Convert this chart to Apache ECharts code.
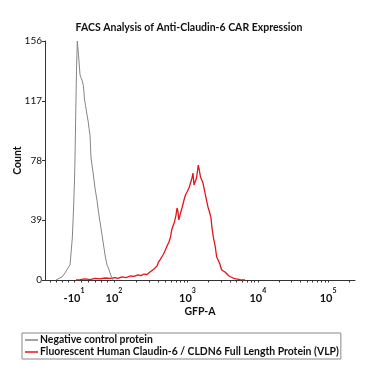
<!DOCTYPE html>
<html><head><meta charset="utf-8">
<script src="https://cdn.jsdelivr.net/npm/echarts@6/dist/echarts.min.js"></script>
<style>html,body{margin:0;padding:0;background:#fff}#c{width:378px;height:378px}</style>
</head><body><div id="c"></div>
<script>
// x values are display channels (logicle-scaled GFP-A axis), y values are counts
var negativeControl = [[11,0],[13,0.3],[17,2],[20,4.6],[23,7.8],[25,9.8],[26.3,19.6],[27.3,27.4],[28.5,45.7],[29.5,65.3],[30,79.6],[30.8,111],[31.5,137],[32.3,156],[33.5,147],[35,134],[36,132],[37,130.5],[38.3,127],[39,122.7],[39.3,118.8],[40.5,114],[41.5,109.7],[43.3,103],[44,99],[45,94.6],[46,79.6],[48,70.5],[50,60],[52,52],[53.5,44.4],[55,37.9],[57,29.4],[59,20.9],[60.5,14.4],[62,9.8],[63.5,7.8],[65,4.6],[66.5,2],[68,0]];
var claudin6VLP = [[31,0],[35,0.3],[40,0.7],[45,0.3],[50,1],[55,0.7],[60,1.3],[65,1],[70,1.6],[73,1],[77,2],[81,1.6],[85,2.6],[89,2.3],[93,3.3],[96,2.9],[99,3.9],[102,3.6],[105,5.2],[107,6.2],[109,7.2],[110.5,8.5],[112,9.1],[113.5,11.7],[115,13.1],[116.5,14.4],[118,16.3],[119.5,18.3],[121,19.6],[122.5,22.8],[124,24.8],[125.5,28.1],[126.7,32.6],[128,35.2],[129.5,37.9],[131,42.4],[132,47],[133,44.4],[133.8,39.2],[135,42.4],[137,47],[139,52.2],[140.5,55.5],[142,57.4],[144,60],[145.5,63.3],[147,66.6],[148,69.8],[149,62],[150,63.3],[151.5,66.6],[153.3,75],[154.3,71.8],[155.5,67.2],[156.7,68.5],[158,63.3],[160,56.8],[161.5,52.2],[163,47.6],[164.5,44.4],[166,40.5],[167,33.9],[168.5,27.4],[170,22.8],[171.7,15],[173,13.7],[174.5,11.1],[176.7,6.5],[178,5.9],[180,5.2],[181.7,4.2],[184,2.6],[186,2],[188,1.3],[191,0.7],[195,0.3],[200,0]];
var xTickPos = [29, 69, 142.5, 212.8, 283.1];
var xTickBase = ['-10', '10', '10', '10', '10'];
var xTickExp = ['1', '2', '3', '4', '5'];
var yTicks = [0, 39, 78, 117, 156];
var seriesNames = ['Negative control protein', 'Fluorescent Human Claudin-6 / CLDN6 Full Length Protein (VLP)'];

// minor tick positions (axis decoration)
var minorTicks = [];
for (var p = 5; p < 29; p += 6) minorTicks.push(p);
[36, 43, 50, 56, 62].forEach(function (v) { minorTicks.push(v); });
var decStarts = [[69, 73.5], [142.5, 70.3], [212.8, 70.3], [283.1, 70.3]];
decStarts.forEach(function (d) {
  for (var k = 2; k <= 9; k++) {
    var v = d[0] + d[1] * Math.log10(k);
    if (v < 310) minorTicks.push(v);
  }
});
var allTicks = xTickPos.concat(minorTicks);

var chart = echarts.init(document.getElementById('c'), null, {renderer: 'canvas'});
var font = 'Lato, "Open Sans", sans-serif';
chart.setOption({
  animation: false,
  title: {
    text: 'FACS Analysis of Anti-Claudin-6 CAR Expression',
    left: 'center', top: 17,
    textStyle: {fontFamily: font, fontWeight: 'bold', fontSize: 10.5, color: '#111'}
  },
  grid: {left: 45, right: 23, top: 41, bottom: 98, containLabel: false, outerBoundsMode: 'none'},
  legend: {
    orient: 'vertical', left: 22, top: 333,
    borderColor: '#888', borderWidth: 1, padding: [2, 2, 2, 3],
    itemGap: 2, itemWidth: 13, itemHeight: 1.5, icon: 'rect',
    textStyle: {fontFamily: font, fontWeight: 'bold', fontSize: 10.4, color: '#111', padding: [0, 0, 0, -3]},
    data: seriesNames
  },
  xAxis: {
    type: 'value', min: 0, max: 310,
    name: 'GFP-A', nameLocation: 'middle', nameGap: 26, nameMoveOverlap: false,
    nameTextStyle: {fontFamily: font, fontWeight: 'bold', fontSize: 10.5, color: '#111'},
    splitLine: {show: false},
    axisLine: {lineStyle: {color: '#333', width: 1}},
    axisTick: {customValues: allTicks, length: 2.5, lineStyle: {color: '#333'}},
    axisLabel: {
      customValues: xTickPos,
      margin: 5,
      formatter: function (v) {
        var i = 0, best = 1e9;
        for (var j = 0; j < xTickPos.length; j++) {
          var dd = Math.abs(xTickPos[j] - v);
          if (dd < best) { best = dd; i = j; }
        }
        return '{b|' + xTickBase[i] + '}{s|' + xTickExp[i] + '}';
      },
      rich: {
        b: {fontFamily: font, fontWeight: 'bold', fontSize: 11, color: '#111', padding: [8, 0, 0, 0]},
        s: {fontFamily: font, fontWeight: 'bold', fontSize: 7, color: '#111', padding: [0, 0, 8, 0]}
      }
    }
  },
  yAxis: {
    type: 'value', min: 0, max: 156, interval: 39,
    name: 'Count', nameLocation: 'middle', nameGap: 22, nameMoveOverlap: false,
    nameTextStyle: {fontFamily: font, fontWeight: 'bold', fontSize: 10.5, color: '#111'},
    splitLine: {show: false},
    axisLine: {show: true, lineStyle: {color: '#333', width: 1}},
    axisTick: {show: true, length: 3, lineStyle: {color: '#333'}},
    axisLabel: {fontFamily: font, fontSize: 10, color: '#111', margin: 3,
      formatter: function (v) { return yTicks.indexOf(v) >= 0 ? String(v) : ''; }}
  },
  series: [
    {name: seriesNames[0], type: 'line', data: negativeControl, showSymbol: false, symbol: 'none',
     lineStyle: {color: '#858585', width: 1}, itemStyle: {color: '#858585'}, z: 3},
    {name: seriesNames[1], type: 'line', data: claudin6VLP, showSymbol: false, symbol: 'none',
     lineStyle: {color: '#e3151b', width: 1.3}, itemStyle: {color: '#e3151b'}, z: 2}
  ]
});
</script></body></html>
